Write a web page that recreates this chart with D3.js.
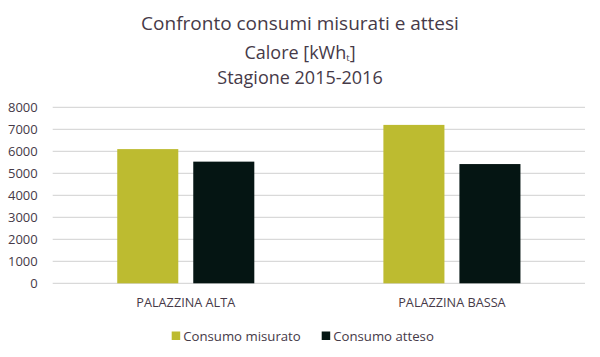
<!DOCTYPE html>
<html>
<head>
<meta charset="utf-8">
<script src="https://cdn.jsdelivr.net/npm/d3@7"></script>
<style>
  body { margin: 0; background: #fff; }
  text { font-family: "Open Sans", sans-serif; fill: #463a48; }
</style>
</head>
<body>
<div id="chart"></div>
<script>
// data
let categories = ["PALAZZINA ALTA", "PALAZZINA BASSA"];
let series = ["Consumo misurato", "Consumo atteso"];
let misurato = [6100, 7200];
let atteso = [5530, 5420];
let yTicks = [0, 1000, 2000, 3000, 4000, 5000, 6000, 7000, 8000];

let colors = ["#bdbb30", "#051513"];

let W = 600, H = 357;
let margin = {top: 107.3, right: 15, bottom: 73.7, left: 52.7};
let width = W - margin.left - margin.right;
let height = H - margin.top - margin.bottom;

var svg = d3.select("#chart")
  .append("svg")
    .attr("width", W)
    .attr("height", H);

// Title: one text block, three lines
let title = svg.append("text")
  .attr("text-anchor", "middle")
  .style("font-size", "18px");
title.append("tspan")
  .attr("x", 300).attr("y", 30)
  .style("font-size", "19px")
  .text("Confronto consumi misurati e attesi");
title.append("tspan").attr("x", 300).attr("y", 59).text("Calore [kWh");
title.append("tspan").attr("dy", 1.5).style("font-size", "9.5px").text("t");
title.append("tspan").attr("dy", -1.5).text("]");
title.append("tspan")
  .attr("x", 300).attr("y", 83.5)
  .text("Stagione 2015-2016");

var g = svg.append("g")
  .attr("transform", "translate(" + margin.left + "," + margin.top + ")");

// scales
var x0 = d3.scaleBand()
  .domain(categories)
  .range([0, width])
  .paddingInner(0.485)
  .paddingOuter(0.2425);
var x1 = d3.scaleBand()
  .domain(series)
  .range([0, x0.bandwidth()])
  .paddingInner(0.197);
var y = d3.scaleLinear()
  .domain([0, 8000])
  .range([height, 0]);

// grid
g.append("g")
  .selectAll("line")
  .data(yTicks)
  .enter()
  .append("line")
    .attr("x1", 0)
    .attr("x2", width)
    .attr("y1", d => y(d))
    .attr("y2", d => y(d))
    .attr("stroke", "#d9d9d9")
    .attr("stroke-width", 1.2);

// y axis labels
var yAxis = g.append("g")
  .call(d3.axisLeft(y).tickValues(yTicks).tickSize(0).tickPadding(15).tickFormat(d3.format("d")));
yAxis.select(".domain").remove();
yAxis.selectAll("text")
  .style("font-size", "13px")
  .style("font-family", "Open Sans")
  .attr("fill", "#463a48");

// bars
let rows = categories.map((c, i) => ({cat: c, values: [misurato[i], atteso[i]]}));
g.append("g")
  .selectAll("g")
  .data(rows)
  .enter()
  .append("g")
    .attr("transform", d => "translate(" + x0(d.cat) + ",0)")
  .selectAll("rect")
  .data(d => d.values.map((v, j) => ({s: series[j], v: v, j: j})))
  .enter()
  .append("rect")
    .attr("x", d => x1(d.s))
    .attr("width", x1.bandwidth())
    .attr("y", d => y(d.v))
    .attr("height", d => height - y(d.v))
    .attr("fill", d => colors[d.j]);

// x axis labels
var xAxis = g.append("g")
  .attr("transform", "translate(0," + height + ")")
  .call(d3.axisBottom(x0).tickSize(0).tickPadding(15));
xAxis.select(".domain").remove();
xAxis.selectAll("text")
  .style("font-size", "12.7px")
  .style("font-family", "Open Sans")
  .attr("fill", "#463a48");

// legend
let legX = [171.7, 321.7];
let legend = svg.append("g")
  .selectAll("g")
  .data(series)
  .enter()
  .append("g")
    .attr("transform", (d, i) => "translate(" + legX[i] + ",331.5)");
legend.append("rect")
  .attr("width", 8.5)
  .attr("height", 8.5)
  .attr("fill", (d, i) => colors[i]);
legend.append("text")
  .attr("x", 11.5)
  .attr("y", 9.2)
  .style("font-size", "13.2px")
  .text(d => d);
</script>
</body>
</html>
